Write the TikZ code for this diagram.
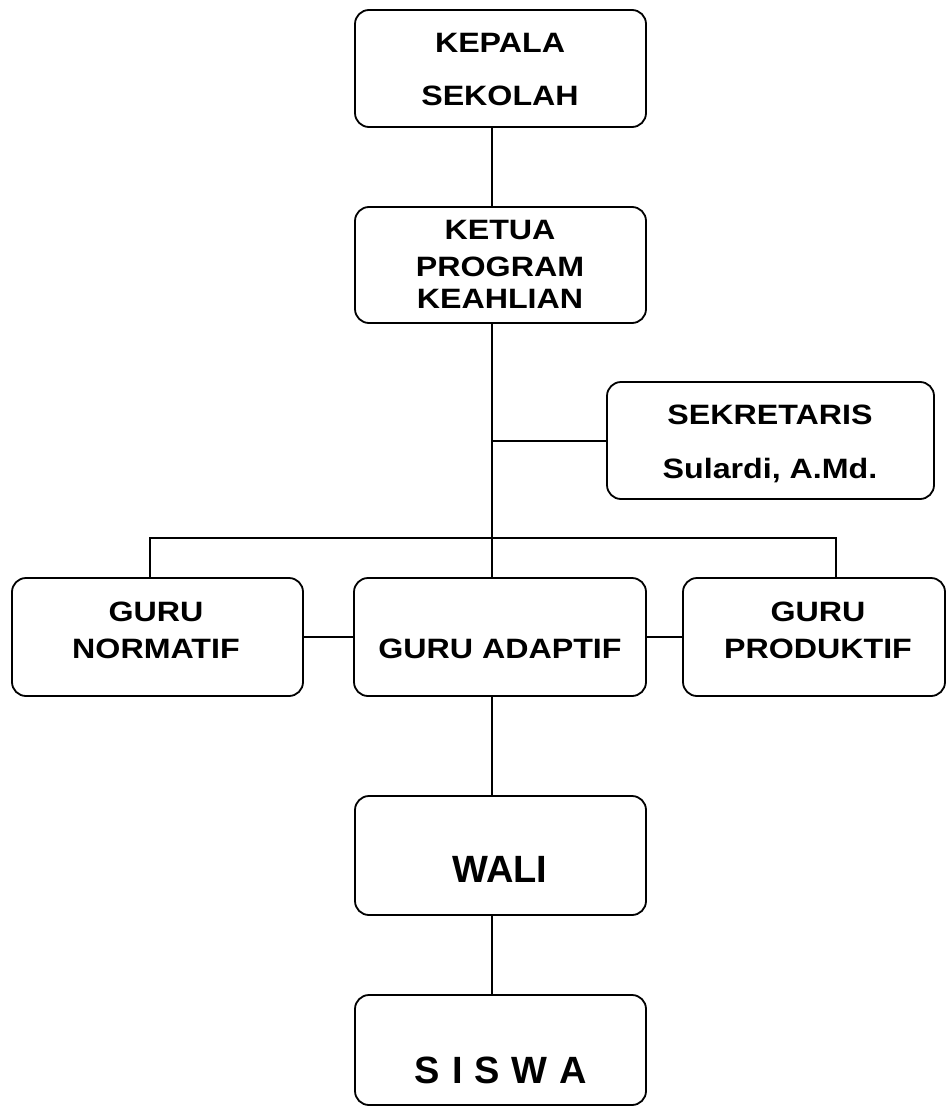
\documentclass[tikz,border=0pt]{standalone}
\usepackage{fontspec}
\newfontfamily\labfont{Liberation Sans}[FakeStretch=1.15]
\newfontfamily\plainfont{Liberation Sans}
\begin{document}
\begin{tikzpicture}[x=1pt,y=-1pt,
  unit/.style={draw=black, line width=1.8pt, rounded corners=14pt},
  txt/.style={anchor=base, inner sep=0pt, font=\labfont\bfseries\fontsize{28}{32}\selectfont},
  big/.style={anchor=base, inner sep=0pt, font=\plainfont\bfseries\fontsize{38}{44}\selectfont},
  link/.style={draw=black, line width=1.8pt}]
\useasboundingbox (0,0) rectangle (947,1107);
\fill[white] (0,0) rectangle (947,1107);

% rounded boxes: outline plus an invisible named node of the same size
\newcommand{\unitbox}[5]{\path[unit] (#2,#3) rectangle (#4,#5);
  \node[inner sep=0pt, outer sep=0pt, minimum width={(#4-#2)*1pt}, minimum height={(#5-#3)*1pt}]
    (#1) at ({(#2+#4)/2},{(#3+#5)/2}) {};}
\unitbox{kepala}{355}{10}{646}{127}
\unitbox{ketua}{355}{207}{646}{323}
\unitbox{sekretaris}{607}{382}{934}{499}
\unitbox{normatif}{12}{578}{303}{696}
\unitbox{adaptif}{354}{578}{646}{696}
\unitbox{produktif}{683}{578}{945}{696}
\unitbox{wali}{355}{796}{646}{915}
\unitbox{siswa}{355}{995}{646}{1105}

% labels
\node[txt] (tKepala) at (500,53) {KEPALA};
\node[txt] (tSekolah) at (500,106) {SEKOLAH};
\node[txt] (tKetua) at (500,240) {KETUA};
\node[txt] (tProgram) at (500,276) {PROGRAM};
\node[txt] (tKeahlian) at (500,308) {KEAHLIAN};
\node[txt] (tSekre) at (770,424) {SEKRETARIS};
\node[txt] (tSulardi) at (770,478) {Sulardi, A.Md.};
\node[txt] (tGuruN) at (156,621) {GURU};
\node[txt] (tNormatif) at (156,658) {NORMATIF};
\node[txt] (tAdaptif) at (500,658) {GURU ADAPTIF};
\node[txt] (tGuruP) at (818,621) {GURU};
\node[txt] (tProduktif) at (818,658) {PRODUKTIF};
\node[big] (tWali) at (500,882) {WALI};
\node[big] (tSiswa) at (501,1083) {S\hspace{12pt}I\hspace{12pt}S\hspace{12pt}W\hspace{12pt}A};

% connectors
\coordinate (spine) at (492,0);
\coordinate (secjoin) at (492,441);
\coordinate (busleft) at (150,538);
\coordinate (busright) at (836,538);
\coordinate (sideline) at (0,637);
\draw[link] (kepala.south -| spine) -- (ketua.north -| spine);
\draw[link] (ketua.south -| spine) -- (adaptif.north -| spine);
\draw[link] (secjoin) -- (secjoin -| sekretaris.west);
\draw[link] (normatif.north -| busleft) -- (busleft) -- (busright) -- (produktif.north -| busright);
\draw[link] (normatif.east |- sideline) -- (adaptif.west |- sideline);
\draw[link] (adaptif.east |- sideline) -- (produktif.west |- sideline);
\draw[link] (adaptif.south -| spine) -- (wali.north -| spine);
\draw[link] (wali.south -| spine) -- (siswa.north -| spine);
\end{tikzpicture}
\end{document}
